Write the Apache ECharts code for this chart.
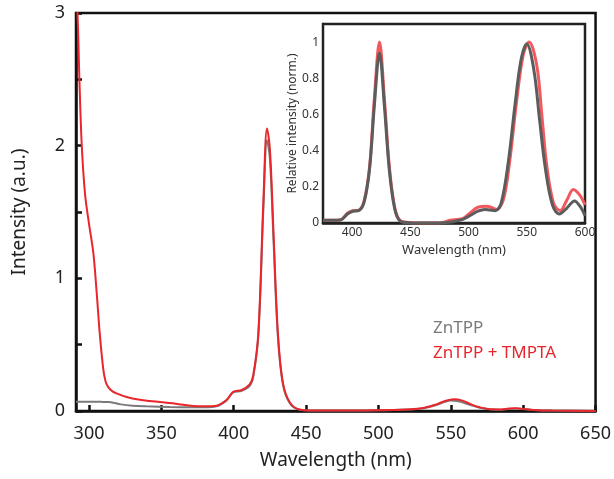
<!DOCTYPE html>
<html>
<head>
<meta charset="utf-8">
<script src="https://cdn.jsdelivr.net/npm/echarts@6/dist/echarts.min.js"></script>
<style>
html,body{margin:0;padding:0;background:#fff;}
#chart{width:614px;height:479px;}
</style>
</head>
<body>
<div id="chart"></div>
<script>
// ---- Data ----
const seriesNames = ['ZnTPP', 'ZnTPP + TMPTA'];

// Main panel: ZnTPP + TMPTA (red)
const mainRedX = [291,292,293.3,294.9,297.2,300,303,305.3,307.6,309.9,311.5,313.3,316,319,326,333,342,349,360,372,380,388,395,399.6,405.5,411,413.5,417,420.5,423,425,427.5,430.5,434,439,446,460,480,500,520,530,540,546,552,558,564,570,578,585,590,595,600,607,620,650];
const mainRedY = [3.1,3.0,2.52,2.02,1.64,1.41,1.19,0.89,0.56,0.31,0.22,0.18,0.15,0.133,0.105,0.088,0.075,0.068,0.055,0.038,0.035,0.04,0.083,0.145,0.158,0.2,0.27,0.59,1.59,2.13,1.97,1.34,0.59,0.21,0.06,0.01,0.003,0.003,0.005,0.012,0.02,0.05,0.075,0.088,0.078,0.05,0.028,0.013,0.012,0.018,0.02,0.016,0.008,0.003,0];

// Main panel: ZnTPP (gray)
const mainGrayX = [291,300,308,314,322,330,340,356,370,380,388,395,399.6,405.5,411,413.5,417,420.5,423,425,427.5,430.5,434,439,446,460,480,500,520,530,540,546,550,556,562,570,578,585,590,595,600,607,620,650];
const mainGrayY = [0.07,0.07,0.069,0.067,0.05,0.04,0.035,0.03,0.028,0.028,0.035,0.08,0.14,0.152,0.19,0.26,0.57,1.53,2.04,1.9,1.28,0.56,0.2,0.055,0.01,0.003,0.003,0.005,0.011,0.018,0.045,0.07,0.08,0.072,0.05,0.025,0.012,0.01,0.015,0.018,0.015,0.008,0.003,0];

// Inset: normalized, ZnTPP + TMPTA (red)
const insetRedX = [375,383,390,396,400.5,406,410.5,415,419,423.5,427.8,432,436.5,441,449,460,475,484,490,495,501,508,515.5,520,524,530,535.5,541.4,547,552,558.6,563,567.3,573,578.7,584.5,590,596,600];
const insetRedY = [0.015,0.015,0.017,0.054,0.068,0.072,0.128,0.31,0.68,1.0,0.68,0.31,0.09,0.015,0.003,0,0,0.015,0.02,0.024,0.054,0.087,0.092,0.085,0.075,0.13,0.35,0.68,0.93,1.0,0.87,0.59,0.31,0.11,0.068,0.128,0.185,0.15,0.1];

// Inset: normalized, ZnTPP (gray)
const insetGrayX = [375,383,390,396,400.5,406,410.5,415,419,423.5,427.8,432,436.5,441,449,460,475,485,490,495,501,508,514,518,523,528,534,540,545,550,556,561,566,572,578,584,591,596,600];
const insetGrayY = [0.015,0.015,0.017,0.05,0.065,0.07,0.12,0.3,0.64,0.94,0.64,0.29,0.08,0.012,0.002,0,0,0.005,0.012,0.02,0.04,0.065,0.075,0.072,0.068,0.11,0.33,0.66,0.9,0.99,0.85,0.57,0.3,0.1,0.05,0.08,0.122,0.09,0.04];

// Tick values
const mainXTicks = [300,350,400,450,500,550,600,650];
const mainYLabels = [0,1,2,3];
const mainYTicks = [0,0.5,1,1.5,2,2.5,3];
const insetXTicks = [400,450,500,550,600];
const insetYTicks = [0,0.2,0.4,0.6,0.8,1];

const zip = (xs, ys) => xs.map((x, i) => [x, ys[i]]);

const RED = '#e8262c';
const GRAY = '#7a7a7a';
const INSET_RED = '#f2585c';
const INSET_GRAY = '#5c5c5c';
const FONT = 'Noto Sans';

const chart = echarts.init(document.getElementById('chart'), null, {renderer: 'canvas'});

const option = {
  animation: false,
  backgroundColor: '#fff',
  textStyle: {fontFamily: FONT},
  legend: {
    orient: 'vertical',
    left: 423,
    top: 315,
    icon: 'none',
    itemWidth: 0,
    itemHeight: 10,
    itemGap: 8,
    textStyle: {fontFamily: FONT, fontSize: 17, padding: [0,0,0,0]},
    data: [
      {name: seriesNames[0], textStyle: {color: GRAY}},
      {name: seriesNames[1], textStyle: {color: RED}}
    ]
  },
  grid: [
    {left: 76, top: 13, right: 18, bottom: 68, show: true, borderColor: '#111', borderWidth: 2.5, backgroundColor: 'transparent', z: 0},
    {left: 323, top: 24, right: 29, bottom: 256, show: true, borderColor: '#222', borderWidth: 2.5, backgroundColor: '#fff', z: 5}
  ],
  xAxis: [
    {
      type: 'value', gridIndex: 0, min: 291, max: 650,
      name: 'Wavelength (nm)', nameLocation: 'middle', nameGap: 40,
      nameTextStyle: {fontSize: 19, color: '#222', fontFamily: FONT},
      axisLine: {show: true, lineStyle: {color: '#111', width: 2.5}},
      axisTick: {show: true, inside: true, length: 6, lineStyle: {color: '#111', width: 2.5}, customValues: mainXTicks},
      axisLabel: {fontSize: 18, color: '#222', margin: 14, customValues: mainXTicks, showMaxLabel: true},
      splitLine: {show: false}
    },
    {
      type: 'value', gridIndex: 1, min: 375, max: 600,
      name: 'Wavelength (nm)', nameLocation: 'middle', nameGap: 21,
      nameTextStyle: {fontSize: 13, color: '#333', fontFamily: FONT},
      axisLine: {show: true, lineStyle: {color: '#222', width: 2.5}},
      axisTick: {show: true, inside: true, length: 4, lineStyle: {color: '#222', width: 2}, customValues: insetXTicks},
      axisLabel: {fontSize: 12, color: '#333', margin: 4, customValues: insetXTicks, showMaxLabel: true},
      splitLine: {show: false}
    }
  ],
  yAxis: [
    {
      type: 'value', gridIndex: 0, min: 0, max: 3,
      name: 'Intensity (a.u.)', nameLocation: 'middle', nameGap: 47,
      nameTextStyle: {fontSize: 19, color: '#222', fontFamily: FONT},
      axisLine: {show: true, lineStyle: {color: '#111', width: 2.5}},
      axisTick: {show: true, inside: true, length: 6, lineStyle: {color: '#111', width: 2.5}, customValues: mainYTicks},
      axisLabel: {fontSize: 18, color: '#222', margin: 11, customValues: mainYLabels},
      splitLine: {show: false}
    },
    {
      type: 'value', gridIndex: 1, min: 0, max: 1.1,
      name: 'Relative intensity (norm.)', nameLocation: 'middle', nameGap: 20,
      nameTextStyle: {fontSize: 12, color: '#333', fontFamily: FONT},
      axisLine: {show: true, lineStyle: {color: '#222', width: 2.5}},
      axisTick: {show: true, inside: true, length: 4, lineStyle: {color: '#222', width: 2}, customValues: insetYTicks},
      axisLabel: {fontSize: 12, color: '#333', margin: 4, customValues: insetYTicks},
      splitLine: {show: false}
    }
  ],
  series: [
    {
      name: seriesNames[0], type: 'line', xAxisIndex: 0, yAxisIndex: 0,
      data: zip(mainGrayX, mainGrayY), showSymbol: false, smooth: 0.35,
      lineStyle: {color: GRAY, width: 2}, itemStyle: {color: GRAY}, z: 2
    },
    {
      name: seriesNames[1], type: 'line', xAxisIndex: 0, yAxisIndex: 0,
      data: zip(mainRedX, mainRedY), showSymbol: false, smooth: 0.35,
      lineStyle: {color: RED, width: 2}, itemStyle: {color: RED}, z: 3
    },
    {
      name: seriesNames[1], type: 'line', xAxisIndex: 1, yAxisIndex: 1,
      data: zip(insetRedX, insetRedY), showSymbol: false, smooth: 0.35,
      lineStyle: {color: INSET_RED, width: 3}, itemStyle: {color: INSET_RED}, z: 6
    },
    {
      name: seriesNames[0], type: 'line', xAxisIndex: 1, yAxisIndex: 1,
      data: zip(insetGrayX, insetGrayY), showSymbol: false, smooth: 0.35,
      lineStyle: {color: INSET_GRAY, width: 3}, itemStyle: {color: INSET_GRAY}, z: 7
    }
  ]
};
chart.setOption(option);
</script>
</body>
</html>
